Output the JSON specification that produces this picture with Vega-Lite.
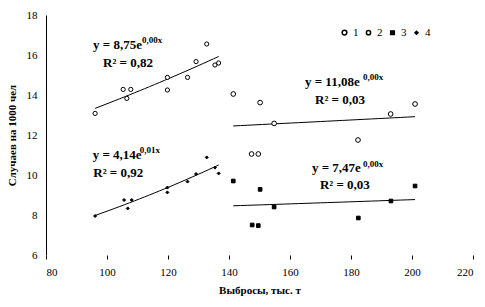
{
  "$schema": "https://vega.github.io/schema/vega-lite/v6.json",
  "width": 427,
  "height": 240,
  "autosize": "none",
  "padding": {"left": 46, "top": 15, "right": 12, "bottom": 52},
  "background": "white",
  "config": {"view": {"stroke": null}, "font": "Liberation Serif"},
  "datasets": {
    "pts": [
      {"series": "2", "x": 96.1, "y": 13.08},
      {"series": "2", "x": 105.3, "y": 14.28},
      {"series": "2", "x": 106.5, "y": 13.83},
      {"series": "2", "x": 107.8, "y": 14.28},
      {"series": "2", "x": 119.8, "y": 14.88},
      {"series": "2", "x": 119.8, "y": 14.25},
      {"series": "2", "x": 126.4, "y": 14.88},
      {"series": "2", "x": 129.2, "y": 15.67},
      {"series": "2", "x": 132.7, "y": 16.55},
      {"series": "2", "x": 135.4, "y": 15.5},
      {"series": "2", "x": 136.6, "y": 15.6},
      {"series": "1", "x": 141.4, "y": 14.05},
      {"series": "1", "x": 147.4, "y": 11.05},
      {"series": "1", "x": 149.6, "y": 11.05},
      {"series": "1", "x": 150.2, "y": 13.62},
      {"series": "1", "x": 154.8, "y": 12.58},
      {"series": "1", "x": 182.3, "y": 11.75},
      {"series": "1", "x": 193.0, "y": 13.05},
      {"series": "1", "x": 201.0, "y": 13.55},
      {"series": "3", "x": 141.4, "y": 9.7},
      {"series": "3", "x": 147.6, "y": 7.5},
      {"series": "3", "x": 149.6, "y": 7.47},
      {"series": "3", "x": 150.2, "y": 9.28},
      {"series": "3", "x": 154.8, "y": 8.4},
      {"series": "3", "x": 182.4, "y": 7.85},
      {"series": "3", "x": 193.1, "y": 8.7},
      {"series": "3", "x": 201.0, "y": 9.45},
      {"series": "4", "x": 96.1, "y": 7.95},
      {"series": "4", "x": 105.6, "y": 8.75},
      {"series": "4", "x": 106.8, "y": 8.33},
      {"series": "4", "x": 108.1, "y": 8.75},
      {"series": "4", "x": 119.8, "y": 9.37},
      {"series": "4", "x": 119.8, "y": 9.13},
      {"series": "4", "x": 126.4, "y": 9.67},
      {"series": "4", "x": 129.2, "y": 10.05},
      {"series": "4", "x": 132.7, "y": 10.88},
      {"series": "4", "x": 135.4, "y": 10.37},
      {"series": "4", "x": 136.6, "y": 10.08}
    ],
    "eq": [
      {"x": 95.4, "y": 16.5, "text": "y = 8,75e"},
      {"x": 98.7, "y": 15.6, "text": "R² = 0,82"},
      {"x": 164.9, "y": 14.67, "text": "y = 11,08e"},
      {"x": 168.2, "y": 13.75, "text": "R² = 0,03"},
      {"x": 95.3, "y": 11.0, "text": "y = 4,14e"},
      {"x": 95.5, "y": 10.08, "text": "R² = 0,92"},
      {"x": 167.2, "y": 10.33, "text": "y = 7,47e"},
      {"x": 169.8, "y": 9.5, "text": "R² = 0,03"}
    ],
    "sup": [
      {"x": 111.5, "y": 16.75, "text": "0,00x"},
      {"x": 183.9, "y": 14.88, "text": "0,00x"},
      {"x": 110.7, "y": 11.25, "text": "0,01x"},
      {"x": 183.9, "y": 10.55, "text": "0,00x"}
    ]
  },
  "encoding": {
    "x": {
      "field": "x", "type": "quantitative",
      "scale": {"domain": [80, 220], "nice": false, "zero": false},
      "axis": {
        "values": [80, 100, 120, 140, 160, 180, 200, 220],
        "domain": false, "grid": false, "ticks": true, "tickSize": 4, "tickColor": "black",
        "labelPadding": 7, "labelFontSize": 11, "labelColor": "black", "labelFont": "Liberation Serif",
        "title": "Выбросы, тыс. т", "titleFontSize": 11, "titleFontWeight": "bold", "titleColor": "black",
        "titleFont": "Liberation Serif", "titlePadding": 7
      }
    },
    "y": {
      "field": "y", "type": "quantitative",
      "scale": {"domain": [6, 18], "nice": false, "zero": false},
      "axis": {
        "values": [6, 8, 10, 12, 14, 16, 18],
        "domain": true, "domainColor": "black", "grid": false, "ticks": false,
        "labelPadding": 9, "labelFontSize": 11, "labelColor": "black", "labelFont": "Liberation Serif",
        "title": "Случаев на 1000 чел", "titleFontSize": 11, "titleFontWeight": "bold", "titleColor": "black",
        "titleFont": "Liberation Serif", "titlePadding": 9
      }
    }
  },
  "layer": [
    {
      "data": {"name": "pts"},
      "transform": [{"regression": "y", "on": "x", "groupby": ["series"], "method": "exp"}],
      "mark": {"type": "line", "color": "black", "strokeWidth": 1},
      "encoding": {"detail": {"field": "series", "type": "nominal"}}
    },
    {
      "data": {"name": "pts"},
      "mark": {"type": "point", "stroke": "black", "strokeWidth": 1, "opacity": 1},
      "encoding": {
        "shape": {"field": "series", "type": "nominal",
          "scale": {"domain": ["1", "2", "3", "4"], "range": ["circle", "circle", "square", "diamond"]},
          "legend": {"orient": "none", "legendX": 293, "legendY": 12, "direction": "horizontal",
            "title": null, "labelFontSize": 11, "labelColor": "black", "labelFont": "Liberation Serif",
            "columnPadding": 4, "labelOffset": 3, "symbolStrokeColor": "black"}},
        "size": {"field": "series", "type": "nominal",
          "scale": {"domain": ["1", "2", "3", "4"], "range": [22, 9, 18, 14]}},
        "fill": {"field": "series", "type": "nominal",
          "scale": {"domain": ["1", "2", "3", "4"], "range": ["white", "white", "black", "black"]}}
      }
    },
    {
      "data": {"name": "eq"},
      "mark": {"type": "text", "align": "left", "baseline": "middle", "fontSize": 13, "fontWeight": "bold",
        "font": "Liberation Serif", "color": "black"},
      "encoding": {"text": {"field": "text"}}
    },
    {
      "data": {"name": "sup"},
      "mark": {"type": "text", "align": "left", "baseline": "middle", "fontSize": 9, "fontWeight": "bold",
        "font": "Liberation Serif", "color": "black"},
      "encoding": {"text": {"field": "text"}}
    }
  ]
}
